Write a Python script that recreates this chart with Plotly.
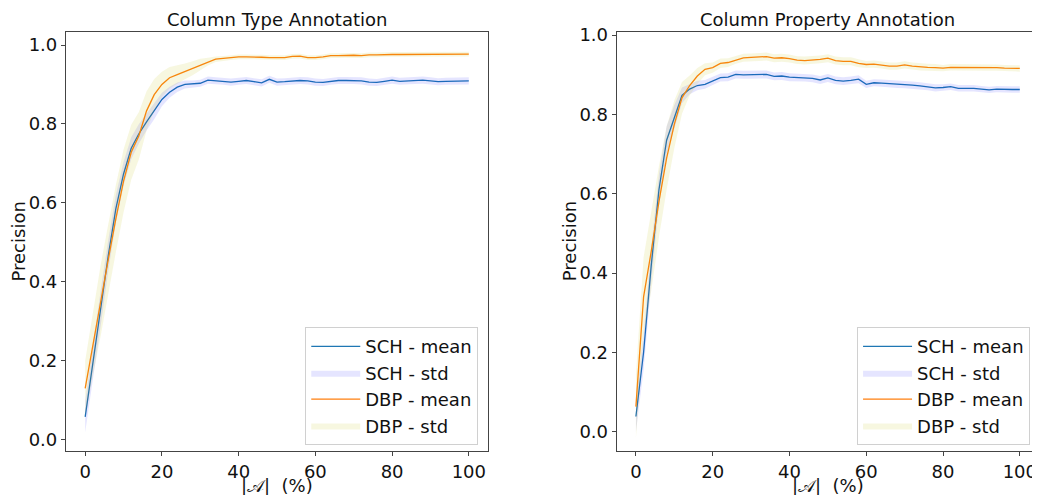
import plotly.graph_objects as go
from plotly.subplots import make_subplots

# |A| (%) grid
x_pct = list(range(0, 101, 2))

# Column Type Annotation
cta_sch_mean = [0.057, 0.195, 0.33, 0.465, 0.585, 0.673, 0.738, 0.775, 0.805, 0.832,
                0.862, 0.880, 0.893, 0.900, 0.901, 0.903, 0.911, 0.909, 0.908, 0.906,
                0.908, 0.910, 0.907, 0.904, 0.913, 0.906, 0.907, 0.909, 0.910, 0.909,
                0.906, 0.905, 0.908, 0.910, 0.910, 0.910, 0.909, 0.906, 0.905, 0.908,
                0.911, 0.908, 0.909, 0.910, 0.911, 0.909, 0.907, 0.908, 0.908, 0.909,
                0.909]
cta_sch_std = [0.04, 0.045, 0.045, 0.04, 0.035, 0.03, 0.028, 0.025, 0.022, 0.02,
               0.017, 0.014, 0.012, 0.010, 0.009, 0.009, 0.009, 0.009, 0.009, 0.009,
               0.009, 0.009, 0.009, 0.009, 0.009, 0.009, 0.009, 0.009, 0.009, 0.009,
               0.009, 0.009, 0.009, 0.009, 0.009, 0.009, 0.009, 0.009, 0.009, 0.009,
               0.009, 0.009, 0.009, 0.009, 0.009, 0.009, 0.009, 0.009, 0.009, 0.009,
               0.009]
cta_dbp_mean = [0.129, 0.24, 0.35, 0.455, 0.56, 0.655, 0.728, 0.77, 0.833, 0.874,
                0.900, 0.917, 0.925, 0.933, 0.941, 0.950, 0.958, 0.964, 0.966, 0.968,
                0.970, 0.970, 0.970, 0.969, 0.968, 0.968, 0.968, 0.971, 0.972, 0.968,
                0.968, 0.970, 0.973, 0.973, 0.974, 0.974, 0.973, 0.975, 0.975, 0.976,
                0.976, 0.976, 0.976, 0.976, 0.977, 0.977, 0.977, 0.977, 0.977, 0.977,
                0.977]
cta_dbp_std = [0.07, 0.08, 0.09, 0.09, 0.085, 0.08, 0.07, 0.06, 0.05, 0.04,
               0.032, 0.027, 0.023, 0.02, 0.018, 0.015, 0.01, 0.007, 0.006, 0.006,
               0.006, 0.006, 0.006, 0.006, 0.006, 0.006, 0.006, 0.006, 0.006, 0.006,
               0.006, 0.006, 0.006, 0.006, 0.006, 0.006, 0.006, 0.006, 0.006, 0.006,
               0.006, 0.006, 0.006, 0.006, 0.006, 0.006, 0.006, 0.006, 0.006, 0.006,
               0.006]

# Column Property Annotation
cpa_sch_mean = [0.038, 0.20, 0.42, 0.61, 0.735, 0.794, 0.848, 0.864, 0.873, 0.876,
                0.884, 0.893, 0.894, 0.901, 0.900, 0.900, 0.900, 0.901, 0.896, 0.897,
                0.894, 0.893, 0.893, 0.891, 0.887, 0.892, 0.886, 0.884, 0.886, 0.889,
                0.876, 0.880, 0.879, 0.878, 0.876, 0.875, 0.874, 0.872, 0.870, 0.867,
                0.868, 0.870, 0.866, 0.866, 0.866, 0.864, 0.862, 0.864, 0.863, 0.863,
                0.863]
cpa_sch_std = [0.04, 0.045, 0.045, 0.04, 0.035, 0.03, 0.02, 0.013, 0.012, 0.011,
               0.010, 0.010, 0.010, 0.010, 0.010, 0.010, 0.010, 0.010, 0.010, 0.010,
               0.010, 0.010, 0.010, 0.010, 0.010, 0.010, 0.010, 0.010, 0.010, 0.010,
               0.009, 0.009, 0.009, 0.009, 0.009, 0.009, 0.009, 0.009, 0.009, 0.009,
               0.008, 0.008, 0.008, 0.008, 0.008, 0.008, 0.008, 0.008, 0.008, 0.008,
               0.008]
cpa_dbp_mean = [0.063, 0.34, 0.455, 0.58, 0.69, 0.775, 0.842, 0.873, 0.897, 0.914,
                0.918, 0.929, 0.931, 0.938, 0.943, 0.944, 0.945, 0.946, 0.942, 0.943,
                0.941, 0.937, 0.936, 0.937, 0.939, 0.942, 0.936, 0.934, 0.934, 0.929,
                0.926, 0.927, 0.925, 0.922, 0.922, 0.925, 0.922, 0.920, 0.919, 0.918,
                0.917, 0.919, 0.919, 0.919, 0.919, 0.918, 0.918, 0.918, 0.917, 0.917,
                0.916]
cpa_dbp_std = [0.08, 0.10, 0.10, 0.09, 0.08, 0.06, 0.04, 0.025, 0.02, 0.015,
               0.013, 0.012, 0.011, 0.010, 0.010, 0.010, 0.010, 0.010, 0.010, 0.010,
               0.010, 0.010, 0.010, 0.010, 0.010, 0.010, 0.010, 0.010, 0.010, 0.010,
               0.009, 0.009, 0.009, 0.009, 0.009, 0.009, 0.009, 0.009, 0.009, 0.009,
               0.008, 0.008, 0.008, 0.008, 0.008, 0.008, 0.008, 0.008, 0.008, 0.008,
               0.008]

titles = ["Column Type Annotation", "Column Property Annotation"]
FONT = "DejaVu Sans"

fig = make_subplots(rows=1, cols=2, horizontal_spacing=0.132)


def band(mean, std):
    upper = [m + s for m, s in zip(mean, std)]
    lower = [m - s for m, s in zip(mean, std)]
    return x_pct + x_pct[::-1], upper + lower[::-1]


panels = [
    (cta_sch_mean, cta_sch_std, cta_dbp_mean, cta_dbp_std, "legend"),
    (cpa_sch_mean, cpa_sch_std, cpa_dbp_mean, cpa_dbp_std, "legend2"),
]

for i, (sm, ss, dm, ds, leg) in enumerate(panels):
    col = i + 1
    fig.add_trace(go.Scatter(x=x_pct, y=sm, mode="lines", name="SCH - mean",
                             line=dict(color="#1f77b4", width=1.3), legend=leg), row=1, col=col)
    bx, by = band(sm, ss)
    fig.add_trace(go.Scatter(x=bx, y=by, fill="toself", fillcolor="rgba(0,0,255,0.1)",
                             line=dict(width=0), mode="lines", name="SCH - std", legend=leg),
                  row=1, col=col)
    fig.add_trace(go.Scatter(x=x_pct, y=dm, mode="lines", name="DBP - mean",
                             line=dict(color="#ff7f0e", width=1.3), legend=leg), row=1, col=col)
    bx, by = band(dm, ds)
    fig.add_trace(go.Scatter(x=bx, y=by, fill="toself", fillcolor="rgba(191,191,0,0.12)",
                             line=dict(width=0), mode="lines", name="DBP - std", legend=leg),
                  row=1, col=col)

axis_style = dict(showline=True, mirror=True, linecolor="#444", linewidth=1.2,
                  ticks="outside", ticklen=4, tickcolor="#444", showgrid=False, zeroline=False,
                  tickfont=dict(size=18, color="#111"))

fig.update_xaxes(axis_style, tickvals=[0, 20, 40, 60, 80, 100], range=[-5, 105])
fig.update_yaxes(axis_style, tickvals=[0, 0.2, 0.4, 0.6, 0.8, 1.0], tickformat=".1f")
fig.update_yaxes(range=[-0.0296, 1.033], row=1, col=1)
fig.update_yaxes(range=[-0.049, 1.008], row=1, col=2)
fig.update_layout(xaxis=dict(domain=[0, 0.4337]), xaxis2=dict(domain=[0.566, 1.0]))

ylab_shift = [-48, -47]
for i, t in enumerate(titles):
    xr = "x domain" if i == 0 else "x2 domain"
    yr = "y domain" if i == 0 else "y2 domain"
    fig.add_annotation(text=t, xref=xr, yref=yr, x=0.5, y=1, yanchor="bottom", yshift=0,
                       showarrow=False, font=dict(size=18, color="#111"))
    fig.add_annotation(text="Precision", xref=xr, yref=yr, x=0, y=0.5, xshift=ylab_shift[i],
                       xanchor="center", yanchor="middle",
                       textangle=-90, showarrow=False, font=dict(size=18, color="#111"))
    fig.add_annotation(text="|𝒜|  (%)", xref=xr, yref=yr, x=0.5, y=0, yshift=-34,
                       yanchor="middle", showarrow=False, font=dict(size=18, color="#111"))

leg_style = dict(bgcolor="rgba(255,255,255,0.8)", bordercolor="#d0d0d0", borderwidth=1,
                 font=dict(size=18, color="#111"), yanchor="bottom", xanchor="right", y=0.014,
                 tracegroupgap=0, itemwidth=49)

# page body adds an 8px offset, so the figure is a bit smaller than the window
fig.update_layout(
    width=1032, height=487,
    margin=dict(l=58, r=1, t=24, b=44),
    paper_bgcolor="white", plot_bgcolor="white",
    font=dict(family=FONT, size=18, color="#111"),
    showlegend=True,
    legend=dict(leg_style, x=0.4237),
    legend2=dict(leg_style, x=0.9908),
)

fig.write_html("out.html")
